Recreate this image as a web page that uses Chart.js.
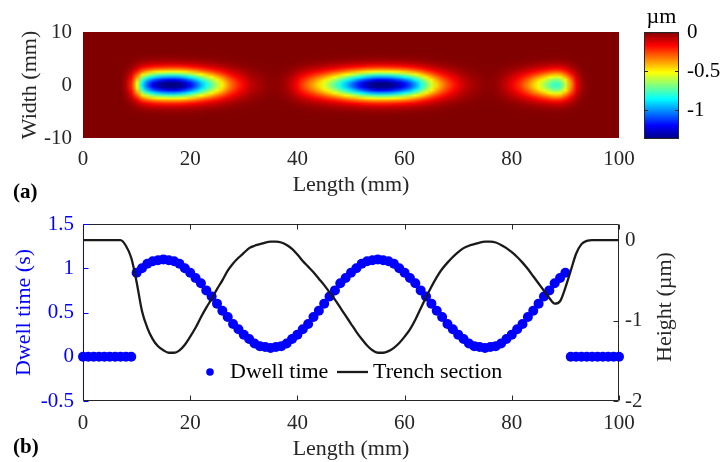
<!DOCTYPE html>
<html>
<head>
<meta charset="utf-8">
<script src="https://cdn.jsdelivr.net/npm/chart.js@4.4.0/dist/chart.umd.min.js"></script>
<style>
  html, body { margin: 0; padding: 0; background: #fff; }
  #wrap { position: relative; width: 720px; height: 462px; }
  canvas { position: absolute; }
</style>
</head>
<body>
<div id="wrap">
  <canvas id="mapChart" width="720" height="215" style="left:0;top:0"></canvas>
  <canvas id="barChart" width="90" height="160" style="left:630px;top:0"></canvas>
  <canvas id="lineChart" width="720" height="262" style="left:0;top:200px"></canvas>
</div>
<script>
// sample positions along the trench (mm)
const lengthMm = [0,1,2,3,4,5,6,7,8,9,10,11,12,13,14,15,16,17,18,19,20,21,22,23,24,25,26,27,28,29,30,
  31,32,33,34,35,36,37,38,39,40,41,42,43,44,45,46,47,48,49,50,51,52,53,54,55,56,57,58,59,60,
  61,62,63,64,65,66,67,68,69,70,71,72,73,74,75,76,77,78,79,80,81,82,83,84,85,86,87,88,89,90,
  91,92,93,94,95,96,97,98,99,100];

// dwell time at each position (s)
const dwellTime = [0,0,0,0,0,0,0,0,0,0,
  0.95,1.00,1.05,1.08,1.09,1.10,1.09,1.08,1.05,1.00,
  0.95,0.89,0.83,0.75,0.68,0.60,0.52,0.45,0.37,0.31,
  0.25,0.20,0.15,0.12,0.11,0.10,0.11,0.12,0.15,0.20,
  0.25,0.31,0.37,0.45,0.52,0.60,0.68,0.75,0.83,0.89,
  0.95,1.00,1.05,1.08,1.09,1.10,1.09,1.08,1.05,1.00,
  0.95,0.89,0.83,0.75,0.68,0.60,0.52,0.45,0.37,0.31,
  0.25,0.20,0.15,0.12,0.11,0.10,0.11,0.12,0.15,0.20,
  0.25,0.31,0.37,0.45,0.52,0.60,0.68,0.75,0.83,0.89,
  0.95,0,0,0,0,0,0,0,0,0,0];

// trench section along the centre line (um)
const trenchHeight = [0,0,0,0,0,0,0,0,
  -0.07,-0.22,-0.52,-0.88,-1.09,-1.23,-1.32,-1.37,-1.40,-1.40,
  -1.37,-1.30,-1.20,-1.09,-0.96,-0.84,-0.73,-0.61,-0.50,-0.38,
  -0.29,-0.22,-0.16,-0.10,-0.07,-0.05,-0.03,-0.02,-0.02,-0.03,
  -0.06,-0.11,-0.18,-0.26,-0.33,-0.40,-0.48,-0.56,-0.65,-0.74,
  -0.84,-0.94,-1.04,-1.14,-1.23,-1.31,-1.37,-1.40,-1.40,-1.38,
  -1.34,-1.28,-1.20,-1.11,-0.99,-0.85,-0.71,-0.58,-0.46,-0.36,
  -0.28,-0.21,-0.15,-0.10,-0.07,-0.05,-0.03,-0.02,-0.02,-0.03,
  -0.06,-0.10,-0.15,-0.21,-0.28,-0.36,-0.45,-0.54,-0.63,-0.72,
  -0.79,-0.76,-0.59,-0.38,-0.17,-0.05,-0.01,0,0,0,
  0,0,0];

// positions across the trench (mm) and relative depth there
const widthMm = [-10,-9.5,-9,-8.5,-8,-7.5,-7,-6.5,-6,-5.5,-5,-4.5,-4,-3.5,-3,-2.5,-2,-1.5,-1,-0.5,
  0,0.5,1,1.5,2,2.5,3,3.5,4,4.5,5,5.5,6,6.5,7,7.5,8,8.5,9,9.5,10];
const widthProfile = [0,0,0,0,0,0,0,0.001,0.004,0.009,0.021,0.044,0.085,0.151,0.249,0.381,0.539,0.707,0.857,0.962,
  1,0.962,0.857,0.707,0.539,0.381,0.249,0.151,0.085,0.044,0.021,0.009,0.004,0.001,0,0,0,0,0,0,0];

// tick labels
const lengthTicks = [0, 20, 40, 60, 80, 100];
const widthTicks = [-10, 0, 10];
const dwellTicks = [-0.5, 0, 0.5, 1, 1.5];
const heightTicks = [-2, -1, 0];
const colorTicks = [-1, -0.5, 0];
const colorMin = -1.37, colorMax = 0;

const axisGray = '#262626';
const blue = '#0000ff';
const serif = "'Liberation Serif', 'Times New Roman', serif";

Chart.defaults.font.family = serif;
Chart.defaults.font.size = 21;
Chart.defaults.color = axisGray;

function jet(t) {
  t = Math.min(1, Math.max(0, t));
  const f = v => Math.round(255 * Math.min(1, Math.max(0, v)));
  return [f(1.5 - Math.abs(4 * t - 3)), f(1.5 - Math.abs(4 * t - 2)), f(1.5 - Math.abs(4 * t - 1))];
}

function setTicks(list) {
  return s => { s.ticks = list.map(v => ({ value: v })); };
}

// depth map = centre-line section x cross profile
const depthMap = widthProfile.map(w => trenchHeight.map(h => h * w));

const heatPlugin = {
  id: 'heat',
  beforeDatasetsDraw(chart) {
    const { ctx, chartArea: a, scales: { x, y } } = chart;
    const nx = lengthMm.length, ny = widthMm.length;
    const off = document.createElement('canvas');
    off.width = nx; off.height = ny;
    const octx = off.getContext('2d');
    const img = octx.createImageData(nx, ny);
    for (let j = 0; j < ny; j++) {
      const row = depthMap[ny - 1 - j];
      for (let i = 0; i < nx; i++) {
        const c = jet((row[i] - colorMin) / (colorMax - colorMin));
        const k = (j * nx + i) * 4;
        img.data[k] = c[0]; img.data[k + 1] = c[1]; img.data[k + 2] = c[2]; img.data[k + 3] = 255;
      }
    }
    octx.putImageData(img, 0, 0);
    const dx = (lengthMm[1] - lengthMm[0]) / 2, dy = (widthMm[1] - widthMm[0]) / 2;
    const x0 = x.getPixelForValue(lengthMm[0] - dx), x1 = x.getPixelForValue(lengthMm[nx - 1] + dx);
    const y0 = y.getPixelForValue(widthMm[ny - 1] + dy), y1 = y.getPixelForValue(widthMm[0] - dy);
    ctx.save();
    ctx.beginPath();
    ctx.rect(a.left, a.top, a.right - a.left, a.bottom - a.top);
    ctx.clip();
    ctx.imageSmoothingEnabled = true;
    ctx.drawImage(off, x0, y0, x1 - x0, y1 - y0);
    ctx.restore();
  },
  afterDraw(chart) {
    const ctx = chart.ctx;
    ctx.save();
    ctx.font = 'bold 21px ' + serif;
    ctx.fillStyle = '#000';
    ctx.textBaseline = 'middle';
    ctx.fillText('(a)', 13, 193);
    ctx.restore();
  }
};

new Chart(document.getElementById('mapChart'), {
  type: 'scatter',
  data: { datasets: [] },
  options: {
    responsive: false,
    animation: false,
    layout: { padding: { top: 32, right: 101, left: 0, bottom: 0 } },
    plugins: { legend: { display: false }, tooltip: { enabled: false } },
    scales: {
      x: {
        type: 'linear', min: 0, max: 100,
        grid: { display: false, drawTicks: false },
        border: { display: false },
        afterBuildTicks: setTicks(lengthTicks),
        ticks: { padding: 9, maxRotation: 0, autoSkip: false },
        title: { display: true, text: 'Length (mm)', font: { size: 22 }, padding: { top: 0, bottom: 17 } },
        afterFit: s => { s.height = 77; }
      },
      y: {
        min: -10, max: 10,
        grid: { display: false, drawTicks: false },
        border: { display: false },
        afterBuildTicks: setTicks(widthTicks),
        ticks: { padding: 11 },
        title: { display: true, text: 'Width (mm)', font: { size: 22 }, padding: { top: 17, bottom: 0 } },
        afterFit: s => { s.width = 83; }
      }
    }
  },
  plugins: [heatPlugin]
});

const colorbarPlugin = {
  id: 'colorbar',
  beforeDatasetsDraw(chart) {
    const { ctx, chartArea: a, scales: { y } } = chart;
    const yb = y.getPixelForValue(colorMin), yt = y.getPixelForValue(colorMax);
    const g = ctx.createLinearGradient(0, yb, 0, yt);
    [0, 0.125, 0.375, 0.625, 0.875, 1].forEach(t => {
      const c = jet(t);
      g.addColorStop(t, `rgb(${c[0]},${c[1]},${c[2]})`);
    });
    ctx.save();
    ctx.fillStyle = g;
    ctx.fillRect(a.left, a.top, a.right - a.left, a.bottom - a.top);
    ctx.strokeStyle = axisGray;
    ctx.lineWidth = 1;
    ctx.strokeRect(a.left + 0.5, a.top + 0.5, a.right - a.left - 1, a.bottom - a.top - 1);
    ctx.beginPath();
    colorTicks.forEach(v => {
      const py = Math.round(y.getPixelForValue(v)) + 0.5;
      ctx.moveTo(a.right, py); ctx.lineTo(a.right - 4, py);
      ctx.moveTo(a.left, py); ctx.lineTo(a.left + 4, py);
    });
    ctx.stroke();
    ctx.font = '22px ' + serif;
    ctx.fillStyle = '#000';
    ctx.textAlign = 'center';
    ctx.textBaseline = 'middle';
    ctx.fillText('\u00b5m', (a.left + a.right) / 2, 17);
    ctx.restore();
  }
};

new Chart(document.getElementById('barChart'), {
  type: 'scatter',
  data: { datasets: [] },
  options: {
    responsive: false,
    animation: false,
    layout: { padding: { top: 32, right: 0, left: 14, bottom: 21 } },
    plugins: { legend: { display: false }, tooltip: { enabled: false } },
    scales: {
      x: { display: false, min: 0, max: 1 },
      y: {
        position: 'right', min: colorMin, max: colorMax,
        grid: { display: false, drawTicks: false },
        border: { display: false },
        afterBuildTicks: setTicks(colorTicks),
        ticks: { padding: 8, color: '#000', callback: v => String(v) },
        afterFit: s => { s.width = 41; }
      }
    }
  },
  plugins: [colorbarPlugin]
});

const framePlugin = {
  id: 'frame',
  beforeDatasetsDraw(chart) {
    const { ctx, chartArea: a, scales: { x, y, y2 } } = chart;
    const L = a.left + 0.5, R = a.right - 0.5, T = a.top + 0.5, B = a.bottom - 0.5;
    ctx.save();
    ctx.lineWidth = 1;
    ctx.strokeStyle = axisGray;
    ctx.beginPath();
    ctx.moveTo(L, T); ctx.lineTo(R, T); ctx.lineTo(R, B); ctx.lineTo(L, B);
    lengthTicks.forEach(v => {
      const px = Math.round(x.getPixelForValue(v)) + 0.5;
      ctx.moveTo(px, T); ctx.lineTo(px, T + 5);
      ctx.moveTo(px, B); ctx.lineTo(px, B - 5);
    });
    heightTicks.forEach(v => {
      const py = Math.round(y2.getPixelForValue(v)) + 0.5;
      ctx.moveTo(R, py); ctx.lineTo(R - 5, py);
    });
    ctx.stroke();
    ctx.strokeStyle = blue;
    ctx.beginPath();
    ctx.moveTo(L, T); ctx.lineTo(L, B);
    dwellTicks.forEach(v => {
      const py = Math.round(y.getPixelForValue(v)) + 0.5;
      ctx.moveTo(L, py); ctx.lineTo(L + 5, py);
    });
    ctx.stroke();
    ctx.restore();
  },
  afterDraw(chart) {
    const { ctx, data: { datasets } } = chart;
    ctx.save();
    // right axis title, reading bottom to top
    ctx.font = '22px ' + serif;
    ctx.fillStyle = axisGray;
    ctx.textAlign = 'center';
    ctx.textBaseline = 'middle';
    ctx.translate(665, 107);
    ctx.rotate(-Math.PI / 2);
    ctx.fillText('Height (\u00b5m)', 0, 0);
    ctx.restore();

    // legend inside the axes
    ctx.save();
    const ly = 172;
    ctx.font = '22px ' + serif;
    ctx.textBaseline = 'middle';
    ctx.beginPath();
    ctx.arc(210, ly, 3.8, 0, Math.PI * 2);
    ctx.fillStyle = datasets[0].pointBackgroundColor;
    ctx.fill();
    ctx.fillStyle = '#000';
    ctx.fillText(datasets[0].label, 230, ly);
    ctx.strokeStyle = datasets[1].borderColor;
    ctx.lineWidth = datasets[1].borderWidth;
    ctx.beginPath();
    ctx.moveTo(337, ly); ctx.lineTo(368, ly);
    ctx.stroke();
    ctx.fillText(datasets[1].label, 373, ly);

    ctx.font = 'bold 21px ' + serif;
    ctx.fillText('(b)', 13, 248);
    ctx.restore();
  }
};

new Chart(document.getElementById('lineChart'), {
  type: 'line',
  data: {
    datasets: [
      {
        label: 'Dwell time',
        data: lengthMm.map((v, i) => ({ x: v, y: dwellTime[i] })),
        yAxisID: 'y',
        showLine: false,
        pointRadius: 5,
        pointBackgroundColor: blue,
        pointBorderWidth: 0,
        clip: false,
        order: 1
      },
      {
        label: 'Trench section',
        data: lengthMm.map((v, i) => ({ x: v, y: trenchHeight[i] })),
        yAxisID: 'y2',
        borderColor: '#1a1a1a',
        borderWidth: 2.3,
        pointRadius: 0,
        cubicInterpolationMode: 'monotone',
        order: 0
      }
    ]
  },
  options: {
    responsive: false,
    animation: false,
    layout: { padding: { top: 24, right: 0, left: 0, bottom: 0 } },
    plugins: { legend: { display: false }, tooltip: { enabled: false } },
    scales: {
      x: {
        type: 'linear', min: 0, max: 100,
        grid: { display: false, drawTicks: false },
        border: { display: false },
        afterBuildTicks: setTicks(lengthTicks),
        ticks: { padding: 10, maxRotation: 0, autoSkip: false },
        title: { display: true, text: 'Length (mm)', font: { size: 22 }, padding: { top: 0, bottom: 0 } },
        afterFit: s => { s.height = 61; }
      },
      y: {
        position: 'left', min: -0.5, max: 1.5,
        grid: { display: false, drawTicks: false },
        border: { display: false },
        afterBuildTicks: setTicks(dwellTicks),
        ticks: { padding: 9, color: blue, callback: v => String(v) },
        title: { display: true, text: 'Dwell time (s)', color: blue, font: { size: 22 }, padding: { top: 11, bottom: 0 } },
        afterFit: s => { s.width = 83; }
      },
      y2: {
        position: 'right', min: -2, max: 0.2,
        grid: { display: false, drawTicks: false },
        border: { display: false },
        afterBuildTicks: setTicks(heightTicks),
        ticks: { padding: 6, callback: v => String(v) },
        afterFit: s => { s.width = 101; }
      }
    }
  },
  plugins: [framePlugin]
});
</script>
</body>
</html>
